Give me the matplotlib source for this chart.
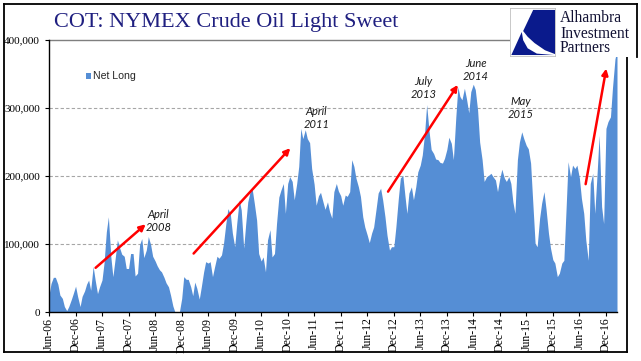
import numpy as np
import pandas as pd
import matplotlib
matplotlib.use('Agg')
import matplotlib.pyplot as plt
import matplotlib.dates as mdates
from matplotlib.patches import Rectangle, Polygon
from matplotlib.lines import Line2D
from matplotlib.ticker import FuncFormatter

# ---------------- data (net long, thousands of contracts, semi-monthly) ----------------
net_long_k = [
    # Jun-06 .. Nov-06
    25, 42, 51, 51, 41, 25, 20, 8, 2, 8, 18, 27,
    # Dec-06 .. May-07
    38, 23, 8, 23, 31, 41, 47, 32, 67, 47, 27, 37,
    # Jun-07 .. Nov-07
    47, 72, 118, 140, 81, 52, 81, 106, 94, 85, 82, 64,
    # Dec-07 .. May-08
    64, 86, 86, 53, 57, 99, 108, 80, 91, 111, 99, 82,
    # Jun-08 .. Nov-08
    75, 68, 62, 59, 51, 43, 37, 25, 9, 0, 0, 0,
    # Dec-08 .. May-09
    20, 52, 48, 48, 37, 24, 44, 35, 19, 37, 59, 74,
    # Jun-09 .. Nov-09
    72, 74, 52, 66, 82, 79, 84, 101, 130, 152, 144, 116,
    # Dec-09 .. May-10
    96, 130, 165, 150, 94, 130, 162, 175, 180, 160, 135, 86,
    # Jun-10 .. Nov-10
    75, 81, 59, 106, 121, 81, 86, 130, 169, 179, 189, 145,
    # Dec-10 .. May-11
    189, 199, 192, 165, 189, 214, 270, 255, 268, 255, 249, 211,
    # Jun-11 .. Nov-11
    188, 157, 171, 176, 162, 151, 162, 148, 138, 177, 189, 178,
    # Dec-11 .. May-12
    171, 157, 172, 170, 177, 224, 214, 197, 184, 170, 140, 125,
    # Jun-12 .. Nov-12
    113, 102, 116, 125, 152, 175, 182, 165, 140, 113, 91, 96,
    # Dec-12 .. May-13
    96, 125, 167, 197, 201, 172, 145, 175, 184, 165, 184, 206,
    # Jun-13 .. Nov-13
    216, 231, 263, 305, 265, 239, 233, 225, 224, 220, 219, 226,
    # Dec-13 .. May-14
    239, 257, 248, 224, 287, 331, 317, 312, 329, 314, 293, 324,
    # Jun-14 .. Nov-14
    335, 327, 297, 250, 224, 192, 199, 201, 204, 199, 194, 177,
    # Dec-14 .. May-15
    197, 210, 197, 192, 199, 189, 162, 145, 224, 250, 265, 255,
    # Jun-15 .. Nov-15
    245, 240, 219, 165, 101, 96, 138, 160, 177, 152, 116, 94,
    # Dec-15 .. May-16
    77, 72, 52, 57, 72, 76, 150, 221, 199, 216, 211, 216,
    # Jun-16 .. Nov-16
    197, 167, 145, 106, 76, 189, 204, 145, 204, 260, 155, 130,
    # Dec-16 .. Feb-17
    270, 280, 287, 330, 372, 386,
]
net_long = np.array(net_long_k) * 1000
dates = pd.date_range('2006-06-01', periods=len(net_long_k), freq='SMS')

tick_dates = pd.date_range('2006-06-01', '2016-12-01', freq='6MS')
y_ticks = [0, 100000, 200000, 300000, 400000]

annotations = [
    ("April\n2008", "2008-06-25", 134000),
    ("April\n2011", "2011-06-16", 285000),
    ("July\n2013", "2013-06-24", 329000),
    ("June\n2014", "2014-06-17", 356000),
    ("May\n2015", "2015-04-21", 300000),
]
arrows = [
    (("2007-04-18", 65000), ("2008-03-28", 129000)),
    (("2009-02-21", 86000), ("2010-12-19", 241000)),
    (("2012-10-22", 177000), ("2014-02-15", 334000)),
    (("2016-07-14", 188000), ("2016-12-03", 358000)),
]

# ---------------- figure ----------------
W, H = 641, 361
fig = plt.figure(figsize=(W / 100, H / 100), dpi=100)
serif = 'Liberation Serif'

def fx(px):
    return px / W

def fy(py):
    return 1 - py / H

ax = fig.add_axes([fx(49), fy(312), fx(617) - fx(49), fy(40) - fy(312)])
area_color = '#558ed5'
ax.fill_between(dates, net_long, 0, color=area_color, lw=0, zorder=2)

ax.set_xlim(pd.Timestamp('2006-06-01'), pd.Timestamp('2017-02-15'))
ax.set_ylim(0, 400000)

for yv in y_ticks[1:-1]:
    ax.axhline(yv, color='#a6a6a6', lw=0.8, ls=(0, (3, 2)), zorder=1)
ax.axhline(400000, color='#7f7f7f', lw=1.0, zorder=1, clip_on=False)

ax.set_yticks(y_ticks)
ax.yaxis.set_major_formatter(FuncFormatter(lambda v, p: f"{int(v):,}"))
ax.set_xticks(tick_dates)
ax.xaxis.set_major_formatter(mdates.DateFormatter('%b-%y'))

for s in ['top', 'right']:
    ax.spines[s].set_visible(False)
for s in ['left', 'bottom']:
    ax.spines[s].set_color('black')
    ax.spines[s].set_linewidth(1.0)
    ax.spines[s].set_zorder(3)

ax.tick_params(axis='y', direction='out', length=3, width=0.8, pad=3.5,
               labelsize=8, labelfontfamily=serif)
ax.tick_params(axis='x', direction='out', length=3, width=0.8, pad=1,
               labelsize=8.5, labelrotation=90, labelfontfamily=serif)

# annotations
for txt, d, v in annotations:
    ax.text(pd.Timestamp(d), v, txt, ha='center', va='center', fontsize=8,
            style='italic', family=['Lato', 'DejaVu Sans'], color='#1a1a1a',
            linespacing=1.25, zorder=5)
for (d0, v0), (d1, v1) in arrows:
    ax.annotate('', xy=(pd.Timestamp(d1), v1), xytext=(pd.Timestamp(d0), v0),
                arrowprops=dict(arrowstyle='-|>', color='#ff0000', lw=1.8,
                                mutation_scale=9, shrinkA=0, shrinkB=0),
                zorder=6)

# legend
fig.patches.append(Rectangle((fx(85.7), fy(79)), fx(90.7) - fx(85.7), fy(73.3) - fy(79),
                             transform=fig.transFigure, color=area_color, lw=0))
fig.text(fx(93), fy(76), 'Net Long', fontsize=7.6, family='Liberation Sans',
         color='#262626', va='center', ha='left')

# title
fig.text(fx(54), fy(22), 'COT: NYMEX Crude Oil Light Sweet', fontsize=16,
         family=serif, color='#1f1f80', va='center', ha='left')

# outer frame
frame = Line2D([fx(4), fx(637), fx(637), fx(626.5), fx(626.5), fx(4), fx(4)],
               [fy(4), fy(4), fy(57), fy(57), fy(352), fy(352), fy(4)],
               transform=fig.transFigure, color='black', lw=1.3)
frame_pts = None
fig.lines.append(Line2D([fx(4), fx(637)], [fy(4), fy(4)], transform=fig.transFigure, color='black', lw=1.3))
fig.lines.append(Line2D([fx(637), fx(637)], [fy(4), fy(57)], transform=fig.transFigure, color='black', lw=1.3))
fig.lines.append(Line2D([fx(626.5), fx(626.5)], [fy(57), fy(352)], transform=fig.transFigure, color='black', lw=1.3))
fig.lines.append(Line2D([fx(4), fx(626.5)], [fy(352), fy(352)], transform=fig.transFigure, color='black', lw=1.3))
fig.lines.append(Line2D([fx(4), fx(4)], [fy(4), fy(352)], transform=fig.transFigure, color='black', lw=1.3))

# logo
lax = fig.add_axes([fx(509.5), fy(56), fx(555) - fx(509.5), fy(8) - fy(56)], zorder=10)
lax.set_xlim(0, 1)
lax.set_ylim(0, 1)
lax.set_xticks([])
lax.set_yticks([])
for s in lax.spines.values():
    s.set_color('#bfbfbf')
    s.set_linewidth(0.6)
lax.set_facecolor('white')
navy = '#0a1a8c'
lax.add_patch(Polygon([(0.52, 0.96), (1.0, 0.96), (1.0, 0.04), (0.78, 0.12),
                       (0.55, 0.27), (0.40, 0.40), (0.30, 0.52)], closed=True,
                      color=navy, lw=0))
lax.add_patch(Polygon([(0.04, 0.02), (0.27, 0.50), (0.30, 0.33), (0.40, 0.16),
                       (0.60, 0.05), (0.98, 0.02)], closed=True, color=navy, lw=0))

# white patch behind logo text so the top line is interrupted
fig.patches.append(Rectangle((fx(555), fy(57)), fx(636) - fx(555), fy(5) - fy(57),
                             transform=fig.transFigure, color='white', lw=0, zorder=9))
for txt, yy in [('Alhambra', 18.5), ('Investment', 33.5), ('Partners', 48.5)]:
    fig.text(fx(560), fy(yy), txt, fontsize=11.2, family=serif, color='#111133',
             va='center', ha='left', zorder=11)

fig.savefig('out.png', dpi=100)
